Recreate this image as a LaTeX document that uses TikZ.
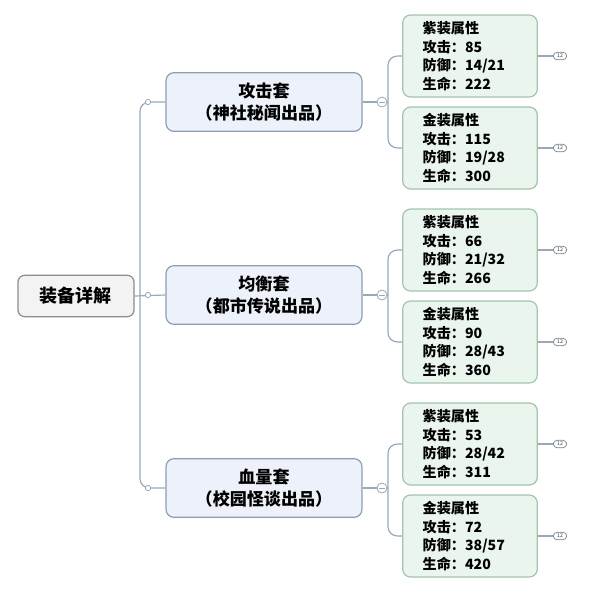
\documentclass[tikz,border=0pt]{standalone}
\usepackage{fontspec}
\setmainfont{Noto Sans CJK SC}
\usepackage{xcolor}
\usepackage{tikz}
\usetikzlibrary{arrows.meta}
\definecolor{linegray}{HTML}{97A9BC}
\definecolor{rootfill}{HTML}{F3F3F3}
\definecolor{rootline}{HTML}{8C8C8C}
\definecolor{suitfill}{HTML}{ECF1FA}
\definecolor{suitline}{HTML}{8E9DB2}
\definecolor{statfill}{HTML}{EAF5ED}
\definecolor{statline}{HTML}{A3C4AC}
\tikzset{
root/.style = { rectangle, draw = rootline, fill = rootfill, line width = 0.9pt, rounded corners = 5pt, minimum width = 87pt, minimum height = 31pt, font = \bfseries\fontsize{13.5}{16}\selectfont },
suit/.style = { rectangle, draw = suitline, fill = suitfill, line width = 0.9pt, rounded corners = 6pt, minimum width = 147pt, minimum height = 44pt, align = center, font = \bfseries\fontsize{12.8}{17}\selectfont },
stats/.style = { rectangle, draw = statline, fill = statfill, line width = 0.9pt, rounded corners = 6pt, minimum width = 101pt, minimum height = 61.5pt, text width = 71pt, inner xsep = 15pt, align = left, font = \bfseries\fontsize{10.6}{14}\selectfont },
tag/.style = { rectangle, draw = gray, fill = white, line width = 0.5pt, rounded corners = 2.8pt, minimum width = 10pt, minimum height = 5.6pt, inner sep = 0pt, font = \fontsize{4}{4.5}\selectfont, text = darkgray },
knob/.style = { circle, draw = linegray, fill = white, line width = 0.6pt, minimum size = 4pt, inner sep = 0pt },
fold/.style = { circle, draw = linegray, fill = white, line width = 0.6pt, minimum size = 7.5pt, inner sep = 0pt },
conn/.style = { draw = linegray, line width = 0.9pt, rounded corners = 7pt },
}

\begin{document}
\begin{tikzpicture}[x = 0.75pt, y = -0.75pt]
    \useasboundingbox (0, 0) rectangle (590, 594);
    % root and the three suits
    \node[root] (root) at (76, 296) {装备详解};
    \node[suit] (atk) at (264, 102) {攻击套\\（神社秘闻出品）};
    \node[suit] (bal) at (264, 295) {均衡套\\（都市传说出品）};
    \node[suit] (hp)  at (264, 488) {血量套\\（校园怪谈出品）};
    \coordinate (trunk) at (140, 296);
    \draw[conn] (atk.west) -| (trunk) |- (hp.west);
    \draw[conn] (root.east) -- (bal.west);
    \node[knob] (k1) at (148, 102) {};
    \node[knob] (k2) at (148, 295) {};
    \node[knob] (k3) at (148, 488) {};

    % stat boxes
    \node[stats] (atkp) at (470, 56)  {紫装属性\\攻击：85\\防御：14/21\\生命：222};
    \node[stats] (atkg) at (470, 148) {金装属性\\攻击：115\\防御：19/28\\生命：300};
    \node[stats] (balp) at (470, 250) {紫装属性\\攻击：66\\防御：21/32\\生命：266};
    \node[stats] (balg) at (470, 342) {金装属性\\攻击：90\\防御：28/43\\生命：360};
    \node[stats] (hpp)  at (470, 444) {紫装属性\\攻击：53\\防御：28/42\\生命：311};
    \node[stats] (hpg)  at (470, 536) {金装属性\\攻击：72\\防御：38/57\\生命：420};

    \coordinate (j1) at (388, 102);
    \coordinate (j2) at (388, 295);
    \coordinate (j3) at (388, 488);
    \draw[conn] (atkp.west) -| (j1) |- (atkg.west);
    \draw[conn] (balp.west) -| (j2) |- (balg.west);
    \draw[conn] (hpp.west)  -| (j3) |- (hpg.west);
    \draw[conn] (atk.east) -- (j1);
    \draw[conn] (bal.east) -- (j2);
    \draw[conn] (hp.east)  -- (j3);
    \node[fold] (f1) at (382, 102) {};
    \node[fold] (f2) at (382, 295) {};
    \node[fold] (f3) at (382, 488) {};
    \draw[linegray, line width = 0.6pt] ([xshift = -2pt]f1.center) -- ([xshift = 2pt]f1.center);
    \draw[linegray, line width = 0.6pt] ([xshift = -2pt]f2.center) -- ([xshift = 2pt]f2.center);
    \draw[linegray, line width = 0.6pt] ([xshift = -2pt]f3.center) -- ([xshift = 2pt]f3.center);

    % collapsed children markers
    \node[tag] (t1) at (560, 56)  {12};
    \node[tag] (t2) at (560, 148) {12};
    \node[tag] (t3) at (560, 250) {12};
    \node[tag] (t4) at (560, 342) {12};
    \node[tag] (t5) at (560, 444) {12};
    \node[tag] (t6) at (560, 536) {12};
    \draw[conn] (atkp.east) -- (t1.west);
    \draw[conn] (atkg.east) -- (t2.west);
    \draw[conn] (balp.east) -- (t3.west);
    \draw[conn] (balg.east) -- (t4.west);
    \draw[conn] (hpp.east)  -- (t5.west);
    \draw[conn] (hpg.east)  -- (t6.west);
\end{tikzpicture}
\end{document}
